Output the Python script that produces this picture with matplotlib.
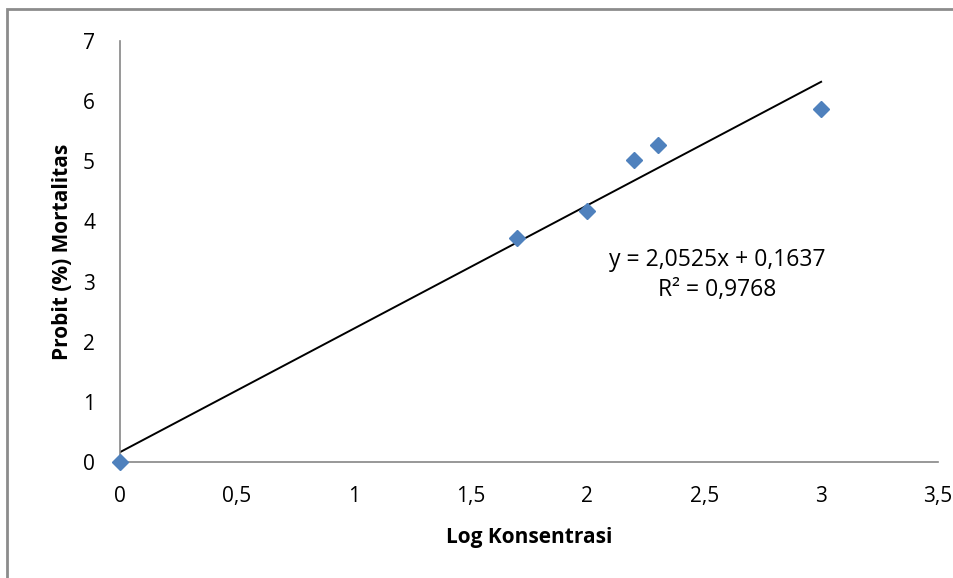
import numpy as np
import matplotlib.pyplot as plt
from matplotlib.patches import Rectangle

log_konsentrasi = [0, 1.7, 2.0, 2.2, 2.3, 3.0]
probit = [0, 3.73, 4.18, 5.02, 5.27, 5.87]
slope, intercept = 2.0525, 0.1637
x_ticks = [0, 0.5, 1, 1.5, 2, 2.5, 3, 3.5]
x_labels = ["0", "0,5", "1", "1,5", "2", "2,5", "3", "3,5"]
y_ticks = [0, 1, 2, 3, 4, 5, 6, 7]

plt.rcParams['font.family'] = ['Open Sans', 'DejaVu Sans']

fig = plt.figure(figsize=(9.54, 5.78), dpi=100)
ax = fig.add_axes([0.1258, 0.2007, 0.8574, 0.7284])

# chart area frame
fig.patches.append(Rectangle((7/954, -0.1), 1.2, 1 - 9/578 + 0.1, transform=fig.transFigure,
                             fill=False, edgecolor="#8c8c8c", linewidth=2))

line_x = np.array([0, 3])
ax.plot(line_x, slope*line_x + intercept, color="black", linewidth=1.4)
ax.plot(log_konsentrasi, probit, linestyle="none", marker="D", markersize=8.5,
        color="#4F81BD", clip_on=False, zorder=3)

ax.set_xlim(0, 3.5)
ax.set_ylim(0, 7)
ax.set_xticks(x_ticks)
ax.set_xticklabels(x_labels)
ax.set_yticks(y_ticks)
ax.tick_params(length=0, labelsize=15)
ax.tick_params(axis="x", pad=17)
ax.tick_params(axis="y", pad=18)
for s in ["top", "right"]:
    ax.spines[s].set_visible(False)
for s in ["left", "bottom"]:
    ax.spines[s].set_color("#868686")
    ax.spines[s].set_linewidth(1.2)

ax.set_xlabel("Log Konsentrasi", fontsize=15, fontweight="bold", labelpad=15)
ax.set_ylabel("Probit (%) Mortalitas", fontsize=15, fontweight="bold", labelpad=7)

ax.text(2.555, 3.11, "y = 2,0525x + 0,1637\nR² = 0,9768", fontsize=16.5,
        ha="center", va="center", linespacing=1.35)

fig.savefig("out.png", dpi=100)
